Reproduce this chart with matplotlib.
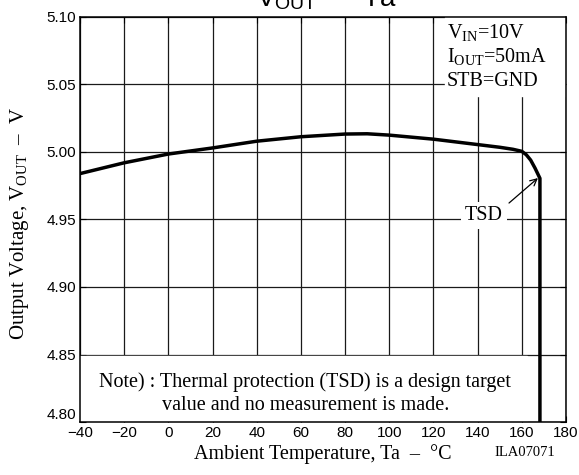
import matplotlib
matplotlib.use("Agg")
import matplotlib.pyplot as plt

plt.rcParams['mathtext.fontset'] = 'custom'
plt.rcParams['mathtext.rm'] = 'Liberation Serif'
plt.rcParams['mathtext.it'] = 'Liberation Serif'

# Values
temp = [-40, -20, 0, 20, 40, 60, 80, 90, 100, 120, 140, 150, 156, 160, 162, 164, 166, 168.2, 168.2]
vout = [4.984, 4.992, 4.9985, 5.003, 5.008, 5.0113, 5.0133, 5.0135, 5.0125, 5.0095, 5.0055,
        5.0035, 5.002, 5.0005, 4.998, 4.994, 4.988, 4.9805, 4.80]

x_ticks = [-40, -20, 0, 20, 40, 60, 80, 100, 120, 140, 160, 180]
y_ticks = [4.80, 4.85, 4.90, 4.95, 5.00, 5.05, 5.10]

cond_lines = ["V$_{\\mathregular{IN}}$=10V", "I$_{\\mathregular{OUT}}$=50mA", "STB=GND"]
cond_y = [5.0844, 5.0665, 5.0487]

serif = 'Liberation Serif'
sans = 'Liberation Sans'

fig = plt.figure(figsize=(5.79, 4.75), dpi=100)
ax = fig.add_axes([80 / 579, 1 - 422 / 475, 486 / 579, 405 / 475])

# grid drawn by hand so the white boxes can cover it while ticks stay on top
for xv in x_ticks:
    ax.axvline(xv, color='#1a1a1a', linewidth=0.9, zorder=1)
for yv in y_ticks:
    ax.axhline(yv, color='#1a1a1a', linewidth=0.9, zorder=1)

ax.axvspan(125, 180, ymin=(5.0415 - 4.80) / 0.30, ymax=1, color='white', zorder=2)
ax.axvspan(-40, 162.5, ymin=0, ymax=(4.8488 - 4.80) / 0.30, color='white', zorder=2)

ax.plot(temp, vout, color='black', linewidth=2.5, solid_capstyle='butt', zorder=5)

ax.set_xlim(-40, 180)
ax.set_ylim(4.80, 5.10)
ax.set_xticks(x_ticks)
ax.set_yticks(y_ticks)
ax.set_yticklabels([f"{v:.2f}" for v in y_ticks])
ax.tick_params(direction='in', length=4, width=0.8, top=True, right=True,
               labelsize=11, pad=3)
for lab in ax.get_xticklabels() + ax.get_yticklabels():
    lab.set_fontfamily(sans)
ax.get_yticklabels()[0].set_va('bottom')
for s in ax.spines.values():
    s.set_linewidth(1.1)
    s.set_zorder(6)

for line, yv in zip(cond_lines, cond_y):
    ax.text(126.1, yv, line, fontsize=14.5, family=serif, va='baseline', ha='left', zorder=6)

ax.text(62, 4.8296, "Note) : Thermal protection (TSD) is a design target",
        fontsize=14.5, family=serif, ha='center', va='center', zorder=6)
ax.text(62, 4.8119, "value and no measurement is made.",
        fontsize=14.5, family=serif, ha='center', va='center', zorder=6)

ax.text(142.9, 4.9533, "TSD", fontsize=14.5, family=serif, ha='center', va='center',
        bbox=dict(boxstyle='square,pad=0.2', facecolor='white', edgecolor='none'), zorder=6)
ax.annotate("", xy=(167.3, 4.9807), xytext=(154.2, 4.9622),
            arrowprops=dict(arrowstyle='->', color='black', linewidth=0.9,
                            shrinkA=0, shrinkB=0, mutation_scale=12), zorder=6)

ax.set_xlabel("Ambient Temperature, Ta  –  °C", fontsize=14.5, family=serif)
ax.xaxis.set_label_coords(0.5, -0.055)
ax.set_ylabel("Output Voltage, V$_{\\mathregular{OUT}}$  –  V", fontsize=15, family=serif)
ax.yaxis.set_label_coords(-0.1, 0.49)

fig.text(525 / 579, 1 - 453 / 475, "ILA07071", fontsize=10.5, family=serif, ha='center', va='center')
fig.text(326 / 579, 1 - 6 / 475, "V$_{\\mathregular{OUT}}$  –  Ta", fontsize=20, family=sans,
         ha='center', va='baseline')

fig.savefig("out.png", dpi=100)
